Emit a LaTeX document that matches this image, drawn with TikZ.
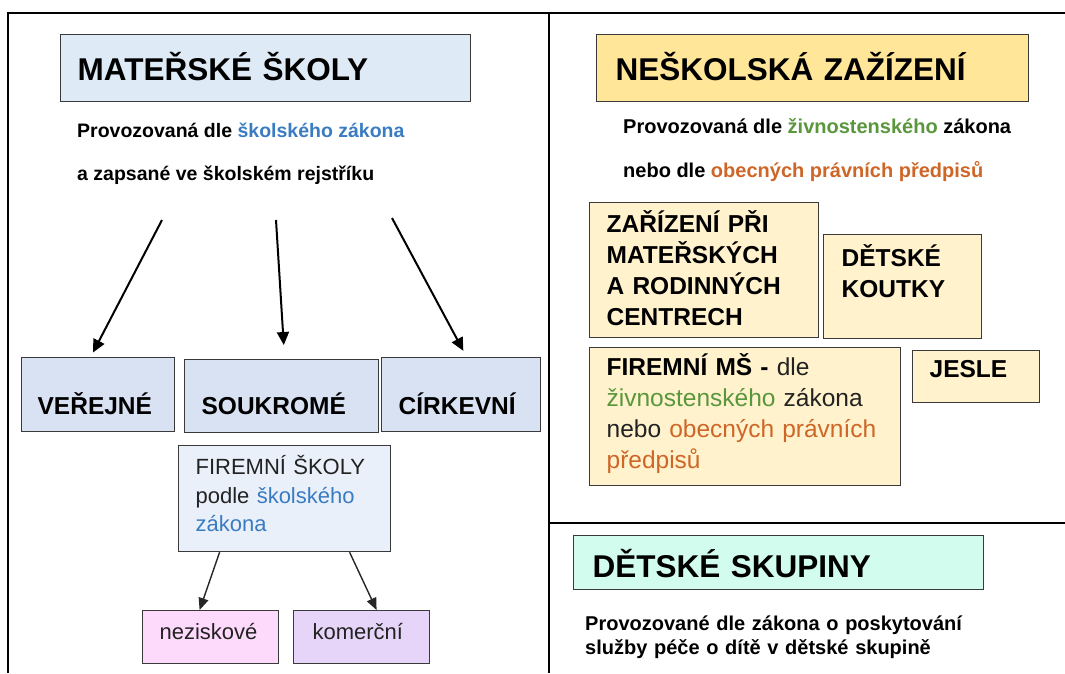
\documentclass[tikz,border=0pt]{standalone}
\usepackage{fontspec}
\setmainfont{Liberation Sans}
\usetikzlibrary{arrows.meta}
\definecolor{boxline}{HTML}{3A3A3A}
\definecolor{arrowgray}{HTML}{262626}
\definecolor{darktext}{HTML}{222222}
\definecolor{msfill}{HTML}{DEEAF6}
\definecolor{kindfill}{HTML}{D9E2F3}
\definecolor{firmfill}{HTML}{EAF0FA}
\definecolor{pinkfill}{HTML}{FDDAFC}
\definecolor{lilacfill}{HTML}{E6D5F8}
\definecolor{goldfill}{HTML}{FFE699}
\definecolor{creamfill}{HTML}{FFF2CC}
\definecolor{mintfill}{HTML}{D2FCEE}
\definecolor{schoolblue}{HTML}{3A7CC2}
\definecolor{tradegreen}{HTML}{5A963C}
\definecolor{laworange}{HTML}{CE6628}
\begin{document}
\begin{tikzpicture}[x=1pt, y=-1pt,
    frame/.style={line width=2.3pt, draw=black},
    headbox/.style={draw=boxline, line width=1.3pt, anchor=north west, inner ysep=0pt,
                    align=left, font=\fontsize{31.5}{38}\selectfont\bfseries},
    kindbox/.style={draw=boxline, line width=1.3pt, anchor=north west, inner ysep=0pt,
                    align=left, font=\fontsize{24.5}{30.8}\selectfont\bfseries},
    textbox/.style={draw=boxline, line width=1.3pt, anchor=north west, inner ysep=0pt,
                    align=left, text=darktext, font=\fontsize{24.5}{31}\selectfont},
    plainbox/.style={draw=boxline, line width=1.2pt, anchor=north west, inner ysep=0pt,
                     align=left, text=darktext, font=\fontsize{22}{28.5}\selectfont},
    note/.style={anchor=base west, inner sep=0pt, align=left,
                 font=\fontsize{19.5}{22}\selectfont\bfseries},
    bigarrow/.style={-{Triangle[length=13pt,width=12pt]}, line width=2pt},
    smallarrow/.style={-{Triangle[length=12pt,width=10pt]}, line width=1.4pt, draw=arrowgray},
  ]
  \useasboundingbox (0,0) rectangle (1065,673);
  \draw[frame] (8,673) -- (8,13) -- (1065,13);
  \draw[frame] (549,13) -- (549,673);
  \draw[frame] (549,523) -- (1065,523);

  \node[headbox, fill=msfill, inner xsep=17pt, text width=376pt, text height=46pt, text depth=21pt]
    (ms) at (60,34) {MATEŘSKÉ ŠKOLY};
  \node[note] (msline1) at (77,137) {Provozovaná dle \textcolor{schoolblue}{školského zákona}};
  \node[note] (msline2) at (77,180) {a zapsané ve školském rejstříku};

  \coordinate (ta) at (162,220);
  \coordinate (tb) at (276,220);
  \coordinate (tc) at (392,218);

  \node[kindbox, fill=kindfill, inner xsep=16pt, text width=121pt, text height=57pt, text depth=17pt]
    (pub) at (21,357) {VEŘEJNÉ};
  \node[kindbox, fill=kindfill, inner xsep=17pt, text width=160pt, text height=55pt, text depth=18pt]
    (priv) at (184,359) {SOUKROMÉ};
  \node[kindbox, fill=kindfill, inner xsep=17pt, text width=125pt, text height=57pt, text depth=17pt]
    (church) at (381,357) {CÍRKEVNÍ};

  \node[plainbox, fill=firmfill, inner xsep=17pt, text width=178pt, text height=29pt, text depth=77pt]
    (firm) at (178,445) {FIREMNÍ ŠKOLY\\podle \textcolor{schoolblue}{školského}\\\textcolor{schoolblue}{zákona}};
  \node[plainbox, fill=pinkfill, inner xsep=17pt, text width=102pt, text height=29pt, text depth=24pt]
    (nonprofit) at (142,610) {neziskové};
  \node[plainbox, fill=lilacfill, inner xsep=19pt, text width=98pt, text height=29pt, text depth=24pt]
    (commercial) at (293,610) {komerční};

  \draw[bigarrow, shorten >=5pt] (ta) -- ([xshift=-7.5pt]pub.north);
  \draw[bigarrow, shorten >=14pt] (tb) -- ([xshift=3pt]priv.north);
  \draw[bigarrow, shorten >=7pt] (tc) -- ([xshift=5.5pt]church.north);
  \draw[smallarrow] ([xshift=-65pt]firm.south) -- ([xshift=-11pt]nonprofit.north);
  \draw[smallarrow] ([xshift=65pt]firm.south) -- ([xshift=15pt]commercial.north);

  \node[headbox, fill=goldfill, inner xsep=19pt, text width=394pt, text height=46pt, text depth=21pt]
    (nsz) at (596,34) {NEŠKOLSKÁ ZAŽÍZENÍ};
  \node[note, font=\fontsize{20}{22}\selectfont\bfseries] (nszline1) at (623,133)
    {Provozovaná dle \textcolor{tradegreen}{živnostenského} zákona};
  \node[note, font=\fontsize{20}{22}\selectfont\bfseries] (nszline2) at (623,177)
    {nebo dle \textcolor{laworange}{obecných právních předpisů}};

  \node[kindbox, fill=creamfill, inner xsep=17pt, text width=195pt, text height=30pt, text depth=105pt]
    (centres) at (589,202) {ZAŘÍZENÍ PŘI\\MATEŘSKÝCH\\A RODINNÝCH\\CENTRECH};
  \node[kindbox, fill=creamfill, inner xsep=18pt, text width=122pt, text height=32pt, text depth=72pt]
    (corners) at (823,234) {DĚTSKÉ\\KOUTKY};
  \node[textbox, fill=creamfill, inner xsep=17pt, text width=277pt, text height=28pt, text depth=110pt]
    (firmms) at (589,347) {{\bfseries\color{black}FIREMNÍ MŠ -} dle\\
      \textcolor{tradegreen}{živnostenského} zákona\\
      nebo \textcolor{laworange}{obecných právních}\\
      \textcolor{laworange}{předpisů}};
  \node[kindbox, fill=creamfill, inner xsep=17pt, text width=93pt, text height=27pt, text depth=25pt]
    (nursery) at (912,350) {JESLE};

  \node[headbox, fill=mintfill, inner xsep=19pt, text width=372pt, text height=42pt, text depth=12pt]
    (dsk) at (573,535) {DĚTSKÉ SKUPINY};
  \node[note, font=\fontsize{20}{24}\selectfont\bfseries, text width=420pt] (dskline) at (585,630)
    {Provozované dle zákona o poskytování\\služby péče o dítě v dětské skupině};
\end{tikzpicture}
\end{document}
